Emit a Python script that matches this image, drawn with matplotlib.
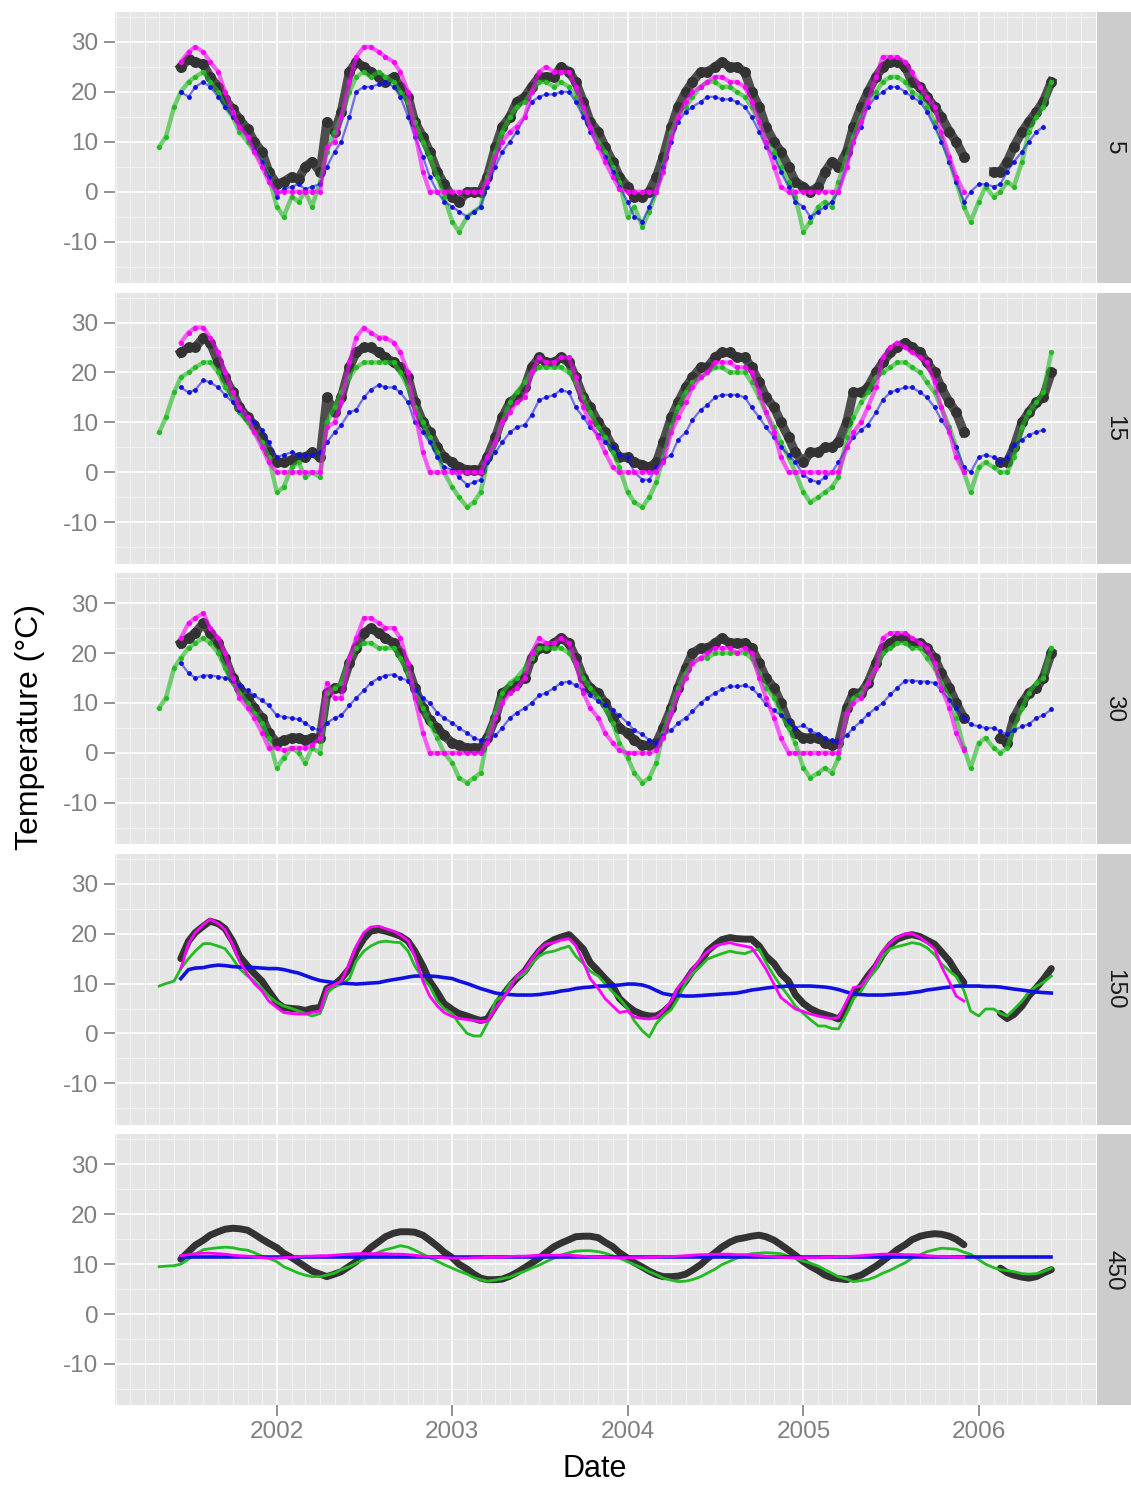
import numpy as np
import pandas as pd
import matplotlib
matplotlib.use('Agg')
import matplotlib.pyplot as plt
import matplotlib.dates as mdates

plt.rcParams['font.family'] = ['Liberation Sans', 'DejaVu Sans']
plt.rcParams['axes.unicode_minus'] = False

# semi-monthly dates (1st and 15th), May 2001 .. June 2006
dates = pd.date_range('2001-05-01', periods=123, freq='SMS')
depths = ['5', '15', '30', '150', '450']

# rows: 2001 May-Dec | 2002 | 2003 | 2004 | 2005 | 2006 Jan-Jun1
black_5 = [None, None, None, 25, 26.5, 26, 25.5, 23, 21, 18.5, 16.5, 14.5, 12.5, 10, 8, 4,
           1.5, 2, 3, 2.5, 5, 6, 4, 14, 12, 16, 24, 26, 25, 24, 23, 22, 23, 21, 19, 14, 11, 8, 4, 1.5,
           -1, -2, 0, 0, 0, 3, 9, 13, 15, 18, 19, 21, 23, 23, 23, 25, 24, 22, 18, 14, 12, 9, 6, 3,
           1, -1, -1, 0, 3, 7, 13, 17, 20, 22, 24, 24, 25, 26, 25, 25, 24, 20, 17, 13, 10, 8, 5, 2,
           1, 0, 1, 4, 6, 5, 8, 13, 17, 20, 23, 25, 26, 26, 25, 22, 21, 19, 17, 15, 12, 10, 7, None,
           None, None, 4, 4, 6, 9, 12, 14, 16, 18, 22]
magenta_5 = [None, None, None, 26, 28, 29, 28, 26, 24, 20, 16, 13, 11, 8, 5, 2,
             0, 0, 0, 0, 0, 0, 0, 9, 10, 15, 22, 27, 29, 29, 28, 27, 26, 24, 20, 12, 4, 0, 0, 0,
             0, 0, 0, 0, 0, 2, 7, 10, 12, 13, 15, 20, 24, 25, 24, 24, 24, 21, 17, 13, 9, 6, 3, 0.5,
             0, 0, 0, 0, 0, 4, 11, 15, 18, 20, 21, 22, 23, 23, 22, 22, 21, 18, 14, 10, 5, 1, 0, 0,
             0, 0, 0, 0, 0, 0, 5, 10, 14, 18, 23, 27, 27, 27, 26, 24, 21, 19, 17, 12, 7, 3, 0, None,
             None, None, None, None, None, None, None, None, None, None, None]
green_5 = [9, 11, 17, 20, 22, 23, 24, 22, 20, 17, 15, 12, 10, 8, 6, 3,
           -3, -5, -1, -2, 0, -3, 2, 8, 12, 15, 20, 23, 24, 23, 24, 23, 22, 20, 18, 14, 10, 7, 3, -1,
           -6, -8, -5, -4, -3, 3, 8, 12, 15, 17, 18, 20, 22, 22, 21, 22, 21, 19, 16, 13, 10, 8, 5, 2,
           -5, -3, -7, -4, 0, 5, 12, 15, 17, 19, 21, 22, 22, 21, 21, 20, 19, 17, 14, 10, 8, 5, 2, -1,
           -8, -6, -3, -2, -3, 2, 7, 11, 15, 18, 20, 22, 23, 23, 22, 20, 19, 17, 14, 11, 6, 2, -3, -6,
           -2, 1, -1, 0, 2, 1, 6, 12, 15, 17, 22]
blue_5 = [None, None, None, 20, 19, 21, 22, 21, 19, 17, 15, 13, 11, 8.5, 6, 3,
          -1, 0.5, 1, 1.5, 0.5, 1, 1.5, 5, 8, 10, 15, 20, 21, 21, 21.5, 22, 21, 19, 15, 11, 7, 3, 0, -2,
          -3, -4, -5, -4, -3, 1, 5, 8, 10, 12, 15, 18, 19, 19.5, 19.5, 20, 20, 18, 15, 12, 9, 7, 4, 1,
          -2, -5, -6, -3, 0, 5, 10, 14, 16, 17, 18, 19, 19, 18.5, 18.5, 18, 17, 15, 12, 9, 7, 4, 1, -2,
          -3, -5, -4, -3, -2, 0, 5, 10, 13, 17, 19, 20, 21, 21, 20, 19, 18, 16, 13, 10, 6, 2, -2, 0,
          1.5, 1.5, 1, 1.5, 4, 6, 8, 10, 12, 13, None]

black_15 = [None, None, None, 24, 25, 25, 27, 26, 22, 19, 16, 13, 11, 9.5, 7, 4,
            2, 2, 2.5, 3, 3, 4, 3, 15, 12, 15, 21, 24, 25, 25, 24, 23, 22, 21, 19, 14, 10, 8, 5, 3,
            2, 1, 0.5, 0.5, 0.5, 3, 7, 11, 14, 15, 17, 21, 23, 22, 22, 23, 22, 19, 15, 13, 10, 8, 5, 3,
            3, 2, 1.5, 1, 2, 6, 11, 14, 17, 19, 21, 21, 23, 24, 24, 23, 23, 21, 18, 15, 13, 10, 7, 4,
            2, 4, 4, 5, 5, 6, 10, 16, 16, 17, 20, 22, 24, 25, 26, 25, 24, 22, 20, 17, 14, 12, 8, None,
            None, None, None, 2, 2, 5, 10, 12, 14, 15, 20]
magenta_15 = [None, None, None, 26, 28, 29, 29, 27, 24, 20, 16, 13, 11, 8, 5, 2,
              0, 0, 0, 0, 0, 0, 0, 9, 10, 14, 22, 27, 29, 28, 27, 27, 26, 24, 20, 12, 4, 0, 0, 0,
              0, 0, 0, 0, 0, 3, 6, 10, 12, 14, 15, 20, 23, 22, 22, 23, 23, 19, 13, 10, 7, 4, 1, 0,
              0, 0, 0, 0, 0, 2, 8, 11, 14, 17, 19, 20, 22, 22, 22, 21, 21, 20, 16, 12, 8, 3, 0, 0,
              0, 0, 0, 0, 0, 0, 5, 8, 10, 13, 17, 23, 25, 26, 25, 24, 23, 22, 18, 13, 8, 3, 0, None,
              None, None, None, None, None, None, None, None, None, None, None]
green_15 = [8, 11, 16, 19, 20, 21, 22, 22, 20, 17, 15, 12, 10, 8, 6, 3,
            -4, -3, 1, 2, -1, 0, -1, 10, 13, 16, 19, 21, 22, 22, 22, 22, 22, 20, 17, 13, 10, 7, 4, 0,
            -3, -5, -7, -6, -4, 2, 6, 10, 14, 16, 18, 20, 21, 21, 21, 21, 20, 18, 15, 12, 9, 7, 4, 1,
            -4, -6, -7, -5, -2, 3, 9, 13, 16, 18, 19, 20, 21, 21, 20, 20, 20, 18, 15, 12, 9, 6, 3, 0,
            -4, -6, -5, -4, -3, -1, 7, 11, 14, 16, 19, 20, 21, 22, 22, 21, 20, 18, 16, 13, 9, 5, 0, -4,
            1, 2, 1, 0, 0, 3, 9, 12, 14, 16, 24]
blue_15 = [None, None, None, 17, 16, 16.5, 18.5, 18, 17, 15.5, 14, 12.5, 11, 10, 8.5, 6,
           3, 3.5, 4, 3.5, 3.5, 3.5, 4, 6, 8, 9.5, 12, 12.5, 15, 16.5, 17.5, 17, 17, 16, 14, 10, 8, 6, 3, 1,
           0.5, -1, -2.5, -2, -1.5, 2, 4, 6, 8, 9, 9.5, 11.5, 14.5, 15, 15.5, 16.5, 16, 13, 11, 9, 7.5, 6, 5, 3.5,
           3, 0, -1.5, -1.5, 1, 2.5, 3.5, 6.5, 8, 10.5, 12.5, 13.5, 15, 15.5, 15.5, 15.5, 15, 13, 11, 9, 7, 5, 3.5, 2,
           -0.5, -1.5, -2, -1, 0, 2, 5, 7, 8.5, 9.5, 12, 14.5, 16, 16.5, 17, 17, 16, 15, 13, 10.5, 8, 5, 1, 0,
           3, 3.5, 3, 2, 3, 5.5, 6.5, 7.5, 8, 8.5, None]

black_30 = [None, None, None, 22, 23, 24, 26, 24, 22, 19, 15, 13, 11, 9, 7, 4,
            2, 2.5, 3, 3, 2.5, 3, 3, 12, 13, 13, 18, 21, 24, 25, 24, 23, 22, 20, 17, 13, 9, 6.5, 5, 3.5,
            2, 1.5, 1, 1, 1, 3, 7, 12, 13, 14, 15, 19, 21, 21, 22, 23, 22, 19, 15, 13, 12, 10, 7, 5,
            4, 2.5, 1.5, 1.5, 2, 5, 9, 13, 17, 20, 21, 21, 22, 23, 22, 22, 22, 21, 18, 15, 13, 10, 6, 4,
            3, 3, 3, 2, 1.5, 2, 9, 12, 12, 14, 18, 21, 22, 23, 23, 22, 22, 21, 19, 16, 13, 10, 7, None,
            None, None, None, 3, 2, 7, 10, 12, 13, 15, 20]
magenta_30 = [None, None, None, 23, 26, 27, 28, 25, 23, 20, 15, 11, 9, 7, 4, 1,
              1, 0.5, 1, 1, 1, 1.5, 3, 14, 11, 11, 19, 23, 27, 27, 26, 25, 25, 23, 18, 11, 4, 0, 0, 0,
              0, 0, 0, 0, 0, 2, 7, 10, 12, 13, 15, 20, 23, 22, 22, 23, 22, 18, 12, 9, 7, 4, 2, 0.5,
              0, 0, 0, 0, 0.5, 3, 8, 12, 15, 18, 19, 20, 21, 21, 21, 20, 21, 20, 15, 11, 7, 3, 0, 0,
              0, 0, 0, 0, 0, 0, 8, 10, 11, 14, 17, 23, 24, 24, 24, 23, 22, 21, 18, 13, 9, 4, 0.5, None,
              None, None, None, None, None, None, None, None, None, None, None]
green_30 = [9, 11, 17, 19, 21, 22, 23, 22, 20, 17, 14, 12, 10, 8, 6, 3,
            -3, -1, 1, 0, -2, 1, 0, 12, 13, 14, 19, 21, 22, 22, 21, 21, 21, 19, 16, 12, 9, 6, 3, 0,
            -2, -5, -6, -5, -4, 3, 8, 12, 14, 15, 17, 19, 21, 21, 21, 21, 20, 18, 15, 13, 11, 9, 6, 2,
            -1, -4, -6, -5, -2, 4, 9, 13, 16, 18, 19, 19, 20, 20, 20, 20, 20, 19, 16, 13, 11, 8, 5, 2,
            -3, -5, -4, -3, -4, -1, 8, 11, 12, 14, 17, 20, 21, 22, 22, 21, 21, 19, 17, 14, 11, 7, 1, -3,
            2, 3, 1, 0, 1, 5, 9, 12, 14, 15, 21]
blue_30 = [None, None, None, 18, 16, 15, 15.5, 15.5, 15.3, 15, 14.5, 13.5, 12.5, 11.5, 10.5, 9.5,
           7.5, 7.2, 7, 6.7, 6, 5, 4.5, 6, 7, 7.5, 9.5, 11, 12.5, 14, 15, 15.5, 15.7, 15, 14.5, 12.5, 11, 10, 8, 7,
           6, 5, 4, 3, 2.5, 2.5, 3.5, 5, 7, 8, 9, 10, 11.5, 12, 13, 14, 14.3, 13.5, 12.5, 11.5, 10.3, 9.5, 8.5, 7.5,
           6, 4.5, 3.7, 2.5, 2, 3.5, 4.5, 6, 7, 8.3, 10, 11, 12, 12.7, 13.3, 13.3, 13.5, 13, 11.5, 9.7, 8.5, 7.5, 6.3, 5,
           5.5, 4.5, 3.7, 3, 2.5, 2.2, 3.5, 5, 6.3, 7.7, 9, 10, 11.7, 13, 14.5, 14.5, 14.3, 14.3, 14, 12.5, 10.5, 9, 7, 5.7,
           5.3, 5, 5, 4.3, 3.7, 4.5, 5.3, 5.7, 7, 7.5, 8.7]

black_150 = [None, None, None, 15, 18.5, 20.2, 21.5, 22.5, 22, 21, 18.5, 15.5, 13.5, 12, 10.5, 8.5,
             6.2, 5.2, 5, 4.9, 4.6, 5, 5.2, 9, 9.8, 11, 13, 16.5, 19, 20.5, 20.8, 20.5, 20, 19.5, 18.5, 16.5, 13.5, 10.5, 8.2, 6,
             4.8, 4, 3.5, 3, 2.6, 2.9, 5.5, 7.5, 9.5, 11, 12.5, 14.5, 16.5, 17.8, 18.8, 19.3, 19.8, 18.5, 16.9, 14.2, 12.5, 11, 9.5, 7,
             5.5, 4.5, 3.8, 3.5, 3.5, 4.3, 5.8, 8.5, 10.5, 12.5, 14.2, 16.5, 17.8, 18.8, 19.2, 19, 18.9, 18.9, 17.5, 15.5, 14, 12, 10.5, 7.8,
             6, 5, 4.2, 3.8, 3.4, 2.9, 5, 8, 9.5, 11.5, 13.5, 15.8, 17.8, 18.9, 19.5, 19.8, 19.4, 18.7, 17.9, 16.4, 14.5, 12.3, 10.2, None,
             None, None, None, 4, 3, 3.8, 5.5, 7.5, 9.2, 10.8, 13]
magenta_150 = [None, None, None, 13, 18, 20.2, 21.8, 22.9, 22, 20.8, 17.8, 14.5, 11.8, 10, 8.5, 6.5,
               5.2, 4.2, 4, 3.9, 3.9, 4.2, 4.5, 9, 9.8, 10.5, 14, 17.5, 20.2, 21.3, 21.5, 21, 20.5, 19.7, 18.6, 15.5, 10.5, 7.5, 5.5, 4.2,
               3.4, 3, 2.8, 2.6, 2.4, 2.5, 5, 6.9, 9, 11.5, 12.7, 14.8, 16.8, 17.9, 18.2, 18.7, 19, 17.6, 14.3, 11, 9, 7, 5.5, 4.2,
               4.5, 3.3, 3, 2.9, 3.3, 4.5, 6.5, 9.2, 10.9, 12.8, 15, 16.4, 17.5, 17.9, 18.2, 17.8, 17.5, 17.2, 15, 12.9, 9.8, 7.2, 6, 4.9,
               4.4, 3.9, 3.5, 3.2, 3, 3.2, 6.5, 9.2, 9.5, 11.3, 14, 16.5, 18.2, 19.2, 20, 20, 19.2, 18.2, 17, 13.5, 10.3, 7.5, 6.5, None,
               None, None, None, None, None, None, None, None, None, None, None]
green_150 = [9.5, 10, 10.5, 13, 15, 16.5, 18, 18, 17.5, 17, 15, 13, 11.5, 10.5, 9, 7.5,
             6.2, 5.5, 5, 4.5, 4, 3.5, 4, 8, 9.5, 9.8, 11, 14.5, 16.5, 17.5, 18.3, 18.5, 18.3, 18.2, 16.5, 13.5, 11, 9.5, 6.5, 5,
             4, 2, 0, -0.5, -0.5, 2, 6.5, 7.5, 10, 11, 12, 14, 15.5, 16.2, 16.5, 17, 17.5, 15.5, 14, 12.5, 11.5, 10, 8.3, 7,
             5, 2.5, 0.5, -0.7, 2, 3.5, 4.8, 7, 10.2, 12, 13.5, 14.9, 15.5, 16, 16.5, 16.2, 16, 16.5, 16.9, 14.2, 11.5, 9.5, 7.5, 5.5,
             4, 2.8, 1.5, 1.5, 1, 0.9, 4, 7, 8.5, 10.8, 12.8, 15.5, 17, 17.4, 17.8, 18.2, 17.9, 17.2, 15.8, 14, 12.5, 11.4, 8.6, 4.5,
             3.5, 4.9, 4.9, 4, 3.5, 4.8, 6.5, 8.2, 9.5, 10.2, 11.5]
blue_150 = [None, None, None, 11, 12.8, 13.1, 13.2, 13.5, 13.7, 13.6, 13.4, 13.3, 13.3, 13.2, 13.1, 13,
            13, 12.8, 12.4, 12.1, 11.6, 11.1, 10.6, 10.4, 10.2, 10.1, 10, 9.9, 10, 10.1, 10.2, 10.5, 10.8, 11, 11.3, 11.5, 11.5, 11.5, 11.4, 11.2,
            11, 10.5, 10, 9.5, 9, 8.6, 8.1, 7.9, 7.8, 7.7, 7.7, 7.7, 7.8, 8, 8.2, 8.5, 8.7, 9, 9.2, 9.3, 9.5, 9.5, 9.6, 9.7,
            9.9, 9.9, 9.7, 9.3, 8.6, 8, 7.7, 7.6, 7.5, 7.5, 7.6, 7.7, 7.8, 7.9, 8, 8.1, 8.4, 8.7, 8.9, 9.1, 9.3, 9.4, 9.5, 9.5,
            9.5, 9.5, 9.4, 9.3, 9.1, 8.8, 8.3, 7.9, 7.8, 7.7, 7.7, 7.7, 7.8, 7.9, 8, 8.2, 8.4, 8.7, 8.9, 9.1, 9.3, 9.5, 9.5, 9.5,
            9.5, 9.4, 9.4, 9.3, 9.1, 8.9, 8.7, 8.5, 8.3, 8.2, 8.1]

black_450 = [None, None, None, 11, 12.5, 13.8, 14.8, 15.8, 16.5, 17, 17.2, 17.1, 16.8, 16, 15, 14.2,
             13.3, 12.2, 11.3, 10.4, 9.5, 8.6, 8, 7.5, 8, 8.5, 9.6, 10.5, 12, 13.3, 14.5, 15.5, 16.2, 16.5, 16.5, 16.4, 15.8, 14.8, 13.6, 12.4,
             11.3, 10, 9, 8, 7.2, 6.9, 6.9, 7, 7.6, 8.3, 9.3, 10.2, 11.2, 12.3, 13.5, 14.2, 14.9, 15.5, 15.6, 15.6, 15.3, 14.4, 13.5, 12.3,
             11.2, 10.3, 9.4, 8.6, 7.9, 7.5, 7.5, 7.6, 8, 8.8, 9.9, 11.1, 12.3, 13.4, 14.4, 15, 15.3, 15.6, 15.8, 15.5, 14.8, 13.9, 12.8, 11.8,
             10.5, 9.6, 8.7, 7.8, 7.3, 7.1, 6.9, 7.3, 7.8, 8.6, 9.6, 10.6, 11.8, 12.9, 13.9, 14.9, 15.6, 15.9, 16.1, 16, 15.6, 15, 13.9, None,
             None, None, None, 9.2, 8.3, 7.8, 7.4, 7.2, 7.5, 8.2, 8.9]
magenta_450 = [None, None, None, 11.7, 11.9, 12.1, 12.2, 12.2, 12.1, 12, 11.8, 11.7, 11.6, 11.5, 11.3, 11.2,
               11.2, 11.3, 11.4, 11.5, 11.6, 11.6, 11.7, 11.7, 11.8, 11.9, 12, 12.1, 12.1, 12.1, 12.1, 12.1, 12, 12, 11.9, 11.8, 11.6, 11.5, 11.4, 11.3,
               11.2, 11.2, 11.2, 11.3, 11.3, 11.4, 11.4, 11.4, 11.5, 11.6, 11.6, 11.7, 11.8, 11.8, 11.8, 11.8, 11.8, 11.7, 11.6, 11.5, 11.4, 11.4, 11.3, 11.3,
               11.3, 11.3, 11.3, 11.4, 11.4, 11.5, 11.5, 11.6, 11.7, 11.8, 11.9, 11.9, 12, 12, 12, 11.9, 11.9, 11.8, 11.7, 11.6, 11.5, 11.4, 11.3, 11.3,
               11.3, 11.3, 11.3, 11.4, 11.4, 11.5, 11.5, 11.6, 11.7, 11.8, 11.9, 12, 12, 12, 11.9, 11.9, 11.8, 11.7, 11.6, 11.5, 11.5, 11.4, 11.4, None,
               None, None, None, None, None, None, None, None, None, None, None]
green_450 = [9.5, 9.6, 9.7, 10, 11, 12, 12.9, 13.1, 13.3, 13.4, 13.3, 13, 12.8, 12.3, 11.6, 11.2,
             10.5, 9.5, 8.8, 8.2, 7.8, 7.5, 7.5, 7.8, 8.2, 8.9, 9.5, 10.2, 11, 11.6, 12.4, 12.9, 13.3, 13.7, 13.4, 12.8, 12, 11.3, 10.6, 9.9,
             9.2, 8.6, 8, 7.3, 6.9, 6.6, 6.8, 7.1, 7.4, 8, 8.6, 9.2, 9.8, 10.5, 11.2, 11.8, 12.3, 12.6, 12.7, 12.7, 12.5, 12.2, 11.7, 11.2,
             10.5, 9.9, 9.2, 8.5, 7.9, 7.2, 6.8, 6.5, 6.6, 6.9, 7.5, 8.2, 9, 9.9, 10.6, 11.2, 11.7, 12.1, 12.2, 12.3, 12.2, 12.1, 11.6, 11.2,
             10.6, 10.2, 9.6, 8.9, 8.2, 7.5, 7, 6.5, 6.7, 6.9, 7.5, 8.2, 8.8, 9.5, 10.3, 11.2, 11.9, 12.5, 12.9, 13.2, 13.1, 13, 12.4, 12,
             10.9, 10, 9.3, 8.9, 8.7, 8.5, 8.1, 8, 8.1, 8.5, 9.2]
blue_450 = [None, None, None, 11.5, 11.5, 11.5, 11.5, 11.5, 11.5, 11.5, 11.5, 11.5, 11.5, 11.5, 11.5, 11.5,
            11.5, 11.5, 11.5, 11.5, 11.5, 11.5, 11.5, 11.5, 11.5, 11.5, 11.5, 11.5, 11.5, 11.5, 11.5, 11.5, 11.5, 11.5, 11.5, 11.5, 11.5, 11.5, 11.5, 11.5,
            11.5, 11.5, 11.5, 11.5, 11.5, 11.5, 11.5, 11.5, 11.5, 11.5, 11.5, 11.5, 11.5, 11.5, 11.5, 11.5, 11.5, 11.5, 11.5, 11.5, 11.5, 11.5, 11.5, 11.5,
            11.5, 11.5, 11.5, 11.5, 11.5, 11.5, 11.5, 11.5, 11.5, 11.5, 11.5, 11.5, 11.5, 11.5, 11.5, 11.5, 11.5, 11.5, 11.5, 11.5, 11.5, 11.5, 11.5, 11.5,
            11.5, 11.5, 11.5, 11.5, 11.5, 11.5, 11.5, 11.5, 11.5, 11.5, 11.5, 11.5, 11.5, 11.5, 11.5, 11.5, 11.5, 11.5, 11.5, 11.5, 11.5, 11.5, 11.5, 11.5,
            11.5, 11.5, 11.5, 11.5, 11.5, 11.5, 11.5, 11.5, 11.5, 11.5, 11.5]

panels = {
    '5': (black_5, green_5, blue_5, magenta_5),
    '15': (black_15, green_15, blue_15, magenta_15),
    '30': (black_30, green_30, blue_30, magenta_30),
    '150': (black_150, green_150, blue_150, magenta_150),
    '450': (black_450, green_450, blue_450, magenta_450),
}
for d, ser in panels.items():
    for s in ser:
        if len(s) != len(dates):
            raise ValueError('bad length %s %d' % (d, len(s)))

c_black = '#333333'
c_green = '#22bb22'
c_blue = '#1010e0'
c_mag = '#ff00ff'
grey_txt = '#7f7f7f'

W, H = 1131, 1485
fig = plt.figure(figsize=(W / 100, H / 100), dpi=100)
left, right = 115, 1096
top0, step, ph = 12, 280.6, 271

for i, d in enumerate(depths):
    blk, grn, blu, mag = [np.array(s, dtype=float) for s in panels[d]]
    top = top0 + i * step
    rect = [left / W, 1 - (top + ph) / H, (right - left) / W, ph / H]
    ax = fig.add_axes(rect)
    ax.set_facecolor('#e5e5e5')
    for sp in ax.spines.values():
        sp.set_visible(False)

    if i < 3:
        # shallow depths: noisy point clouds in the original
        ax.plot(dates, blk, color=c_black, lw=6.5, alpha=0.85, zorder=2)
        ax.scatter(dates, blk, s=62, color=c_black, lw=0, zorder=2.1)
        ax.plot(dates, grn, color=c_green, lw=3.2, alpha=0.6, zorder=3)
        ax.scatter(dates, grn, s=14, color=c_green, lw=0, zorder=3.1)
        ax.plot(dates, blu, color=c_blue, lw=1.6, alpha=0.55, zorder=4)
        ax.scatter(dates, blu, s=12, color=c_blue, lw=0, zorder=4.1)
        ax.plot(dates, mag, color=c_mag, lw=3.0, alpha=0.6, zorder=5)
        ax.scatter(dates, mag, s=14, color=c_mag, lw=0, zorder=5.1)
    else:
        ax.plot(dates, blk, color=c_black, lw=5.0, zorder=2, solid_capstyle='round')
        ax.plot(dates, grn, color=c_green, lw=2.0, zorder=3)
        ax.plot(dates, blu, color=c_blue, lw=2.6, zorder=4)
        ax.plot(dates, mag, color=c_mag, lw=2.0, zorder=5)

    ax.set_xlim(pd.Timestamp('2001-01-29'), pd.Timestamp('2006-09-02'))
    ax.set_ylim(-18.3, 36)
    ax.xaxis.set_major_locator(mdates.YearLocator())
    ax.xaxis.set_minor_locator(mdates.MonthLocator())
    ax.xaxis.set_major_formatter(mdates.DateFormatter('%Y'))
    ax.set_yticks([-10, 0, 10, 20, 30])
    ax.set_yticks([-15, -5, 5, 15, 25, 35], minor=True)
    ax.grid(which='major', color='white', lw=1.2)
    ax.grid(which='minor', color='#f4f4f4', lw=0.7)
    ax.set_axisbelow(True)
    ax.tick_params(axis='y', which='major', length=8, width=1.2, color=grey_txt,
                   labelcolor=grey_txt, labelsize=17.5, pad=4)
    ax.tick_params(which='minor', length=0)
    if i == len(depths) - 1:
        ax.tick_params(axis='x', which='major', length=8, width=1.2, color=grey_txt,
                       labelcolor=grey_txt, labelsize=17.5, pad=3)
    else:
        ax.tick_params(axis='x', which='major', length=0, labelbottom=False)

    # facet strip
    sax = fig.add_axes([1097 / W, 1 - (top + ph) / H, (W - 1097) / W, ph / H])
    sax.set_facecolor('#cccccc')
    sax.set_xticks([])
    sax.set_yticks([])
    for sp in sax.spines.values():
        sp.set_visible(False)
    sax.text(0.5, 0.5, d, rotation=-90, ha='center', va='center',
             fontsize=17.5, color='#1a1a1a', transform=sax.transAxes)

fig.text(595 / W, 1 - 1469 / H, 'Date', ha='center', va='center', fontsize=22)
fig.text(30 / W, 1 - 727 / H, 'Temperature (°C)', rotation=90,
         ha='center', va='center', fontsize=23)

fig.savefig('out.png', dpi=100)
